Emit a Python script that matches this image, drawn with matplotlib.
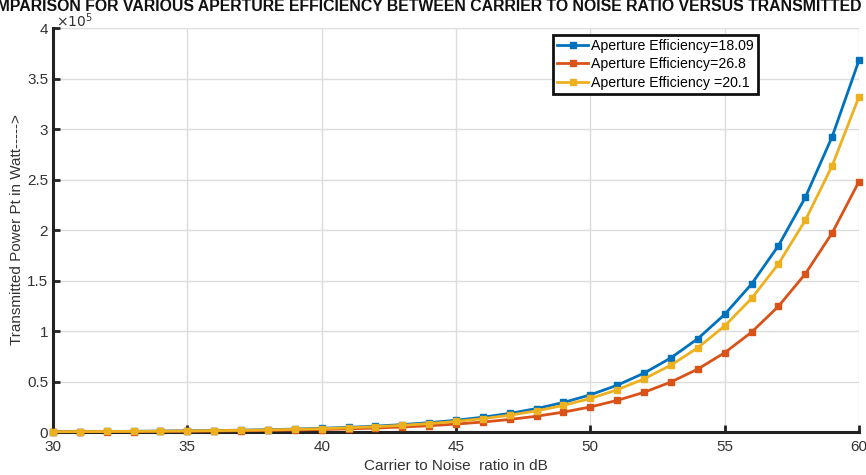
import numpy as np
import matplotlib.pyplot as plt
from matplotlib.ticker import FuncFormatter

##############################################
# Data
##############################################
cnr_db = list(range(30, 61))

# Aperture efficiency = 18.09
pt_1809 = [370, 460, 580, 730, 920, 1160, 1460, 1840, 2320, 2920,
           3680, 4630, 5830, 7340, 9240, 11640, 14650, 18440, 23220, 29230,
           36800, 46300, 58300, 73400, 92400, 116400, 146500, 184400, 232200, 292300,
           368000]
# Aperture efficiency = 26.8
pt_268 = [248, 313, 393, 495, 623, 785, 990, 1240, 1570, 1970,
          2480, 3130, 3930, 4950, 6230, 7850, 9880, 12440, 15650, 19700,
          24800, 31300, 39300, 49500, 62300, 78500, 98800, 124400, 156500, 197000,
          248000]
# Aperture efficiency = 20.1
pt_201 = [332, 418, 526, 662, 834, 1050, 1320, 1660, 2090, 2640,
          3320, 4180, 5260, 6620, 8340, 10500, 13220, 16640, 20950, 26350,
          33200, 41800, 52600, 66200, 83400, 105000, 132200, 166400, 209500, 263500,
          332000]

labels = ["Aperture Efficiency=18.09", "Aperture Efficiency=26.8",
          "Aperture Efficiency =20.1"]
colors = ["#0072BD", "#D95319", "#EDB120"]

title = ("COMPARISON FOR VARIOUS APERTURE EFFICIENCY BETWEEN CARRIER TO NOISE "
         "RATIO VERSUS TRANSMITTED POWER")

##############################################
# Plot
##############################################
plt.rcParams['font.family'] = ['Liberation Sans', 'DejaVu Sans']

fig = plt.figure(figsize=(8.66, 4.75), dpi=100)
ax = fig.add_axes([0.0612, 0.0905, 0.9307, 0.8505])

for y, lab, c in zip([pt_1809, pt_268, pt_201], labels, colors):
    ax.plot(cnr_db, y, color=c, lw=2, marker="s", markersize=4.8,
            label=lab, clip_on=False, zorder=3)

ax.set_xlim(30, 60)
ax.set_ylim(0, 4e5)
ax.set_xticks(range(30, 61, 5))
ax.set_yticks(np.arange(0, 4.01e5, 0.5e5))
ax.yaxis.set_major_formatter(FuncFormatter(lambda v, p: "%g" % (v / 1e5)))

ax.grid(True, color="#dcdcdc", lw=1)
ax.set_axisbelow(True)
for s in ["top", "right"]:
    ax.spines[s].set_visible(False)
for s in ["left", "bottom"]:
    ax.spines[s].set_linewidth(2.2)
    ax.spines[s].set_color("#222222")
ax.tick_params(direction="in", length=5, width=2, colors="#222222",
               labelsize=11, labelcolor="#333333")
ax.tick_params(axis="x", pad=6)

ax.text(0.004, 0.996, r"$\times10^5$", transform=ax.transAxes,
        fontsize=10, color="#333333", ha="left", va="bottom")

ax.set_xlabel("Carrier to Noise  ratio in dB", fontsize=11, color="#333333",
              labelpad=3)
ax.set_ylabel("Transmitted Power Pt in Watt----->", fontsize=11,
              color="#333333")
ax.yaxis.set_label_coords(-0.036, 0.5)

fig.text(0.519, 0.987, title, ha="center", va="center", fontsize=11.4,
         fontweight="bold", color="#111111")

leg = ax.legend(loc="upper right", bbox_to_anchor=(0.875, 0.983),
                fontsize=10.2, fancybox=False, framealpha=1,
                edgecolor="#111111", handlelength=2.2, borderpad=0.3,
                labelspacing=0.3, handletextpad=0.2, borderaxespad=0)
leg.get_frame().set_linewidth(2)

fig.savefig("out.png", dpi=100)
